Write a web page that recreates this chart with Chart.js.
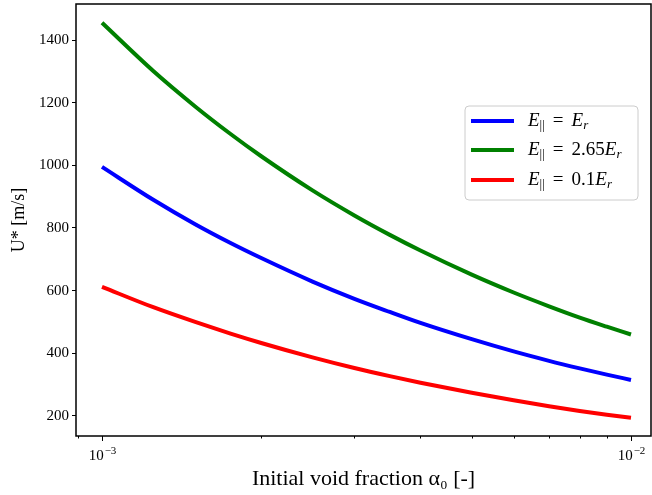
<!DOCTYPE html>
<html>
<head>
<meta charset="utf-8">
<script src="https://cdn.jsdelivr.net/npm/chart.js@4/dist/chart.umd.min.js"></script>
<style>
  html, body { margin: 0; padding: 0; background: #fff; }
</style>
</head>
<body>
<canvas id="chart" width="652" height="495"></canvas>
<script>
// void fraction samples (log axis)
const alpha = [0.001, 0.00125, 0.0015, 0.00175, 0.002, 0.0025, 0.003, 0.0035,
               0.004, 0.005, 0.006, 0.007, 0.008, 0.009, 0.01];

// U* [m/s]
const uBase  = [995, 890, 812, 752, 704, 629, 574, 532, 497, 445, 406, 376, 352, 332, 315];
const uHigh  = [1455, 1301, 1188, 1100, 1029, 920, 840, 778, 728, 651, 594, 550, 514, 485, 460];
const uLow   = [612, 547, 500, 463, 433, 387, 353, 327, 306, 274, 250, 231, 216, 204, 194];

const seriesCoef   = ['', '2.65', '0.1'];
const seriesColors = ['#0000ff', '#008000', '#ff0000'];

const yTicks = [200, 400, 600, 800, 1000, 1200, 1400];
const xMajor = [0.001, 0.01];
const xMinor = [0.0009, 0.002, 0.003, 0.004, 0.005, 0.006, 0.007, 0.008, 0.009];
const xExp   = ['\u22123', '\u22122'];

const serif = '"Liberation Serif", "DejaVu Serif", serif';

function mathLabel(ctx, x, y, coef) {
  const big = '19px ' + serif, bigIt = 'italic 19px ' + serif;
  const sub = '13px ' + serif, subIt = 'italic 13px ' + serif;
  const put = (txt, font, dy, gap) => {
    ctx.font = font;
    ctx.fillText(txt, x, y + dy);
    x += ctx.measureText(txt).width + (gap || 0);
  };
  put('E', bigIt, 0, 0);
  put('||', sub, 5, 8);
  put('=', big, 0, 8);
  if (coef) put(coef, big, 0, 0);
  put('E', bigIt, 0, 0);
  put('r', subIt, 5, 0);
}

const framePlugin = {
  id: 'frame',
  afterDatasetsDraw(chart) {
    const { ctx, chartArea: a, scales: { x } } = chart;
    ctx.save();
    ctx.strokeStyle = '#000';
    ctx.lineWidth = 1;
    // x ticks: major and minor
    xMajor.concat(xMinor).forEach(v => {
      const px = Math.round(x.getPixelForValue(v)) + 0.5;
      const len = xMajor.includes(v) ? 5 : 2.5;
      ctx.beginPath();
      ctx.moveTo(px, a.bottom);
      ctx.lineTo(px, a.bottom + len);
      ctx.stroke();
    });
    // major tick labels as 10^n
    ctx.fillStyle = '#000';
    ctx.textBaseline = 'alphabetic';
    xMajor.forEach((v, i) => {
      const px = x.getPixelForValue(v);
      ctx.font = '15px ' + serif;
      const w1 = ctx.measureText('10').width;
      ctx.font = '11px ' + serif;
      const w2 = ctx.measureText(xExp[i]).width;
      let left = px - (w1 + w2) / 2;
      ctx.font = '15px ' + serif;
      ctx.fillText('10', left, 460);
      ctx.font = '11px ' + serif;
      ctx.fillText(xExp[i], left + w1 + 1, 454);
    });
    // axes frame
    ctx.lineWidth = 1.5;
    ctx.strokeRect(a.left, a.top, a.right - a.left, a.bottom - a.top);

    // legend inside the plot
    const bx = 465, by = 106, bw = 173, bh = 94;
    ctx.beginPath();
    ctx.roundRect(bx, by, bw, bh, 4);
    ctx.fillStyle = 'rgba(255,255,255,0.85)';
    ctx.fill();
    ctx.strokeStyle = '#cccccc';
    ctx.lineWidth = 1;
    ctx.stroke();
    const rows = [121, 150, 180];
    chart.data.datasets.forEach((ds, i) => {
      ctx.strokeStyle = ds.borderColor;
      ctx.lineWidth = 4;
      ctx.beginPath();
      ctx.moveTo(471, rows[i]);
      ctx.lineTo(514, rows[i]);
      ctx.stroke();
      ctx.fillStyle = '#000';
      ctx.textBaseline = 'middle';
      mathLabel(ctx, 528, rows[i], seriesCoef[i]);
    });
    ctx.restore();
  }
};

const datasets = [uBase, uHigh, uLow].map((vals, i) => ({
  label: 'E|| = ' + seriesCoef[i] + 'Er',
  data: alpha.map((a, j) => ({ x: a, y: vals[j] })),
  borderColor: seriesColors[i],
  borderWidth: 4,
  pointRadius: 0,
  fill: false,
  cubicInterpolationMode: 'monotone'
}));

new Chart(document.getElementById('chart'), {
  type: 'line',
  data: { datasets },
  options: {
    responsive: false,
    animation: false,
    layout: { padding: { top: 4, right: 1, left: 0, bottom: 0 } },
    plugins: { legend: { display: false }, tooltip: { enabled: false } },
    scales: {
      x: {
        type: 'logarithmic',
        min: 0.000893,
        max: 0.01091,
        afterBuildTicks: s => { s.ticks = xMajor.concat(xMinor).sort((p, q) => p - q).map(v => ({ value: v })); },
        afterFit: s => { s.height = 59; s.paddingLeft = 0; s.paddingRight = 0; },
        grid: { display: false },
        border: { display: false },
        ticks: {
          autoSkip: false,
          maxRotation: 0,
          callback: () => ''
        },
        title: {
          display: true,
          text: 'Initial void fraction \u03B1\u2080 [-]',
          color: '#000',
          font: { family: serif, size: 22 },
          padding: { top: 2, bottom: 3 }
        }
      },
      y: {
        min: 136,
        max: 1515,
        afterBuildTicks: s => { s.ticks = yTicks.map(v => ({ value: v })); },
        afterFit: s => { s.width = 76; s.paddingTop = 0; s.paddingBottom = 0; },
        grid: { drawOnChartArea: false, tickLength: 4, color: '#000', tickWidth: 1 },
        border: { display: false },
        ticks: {
          padding: 3,
          color: '#000',
          font: { family: serif, size: 15 },
          callback: v => String(v)
        },
        title: {
          display: true,
          text: 'U* [m/s]',
          color: '#000',
          font: { family: serif, size: 18 },
          padding: { top: 8, bottom: 0 }
        }
      }
    }
  },
  plugins: [framePlugin]
});
</script>
</body>
</html>
